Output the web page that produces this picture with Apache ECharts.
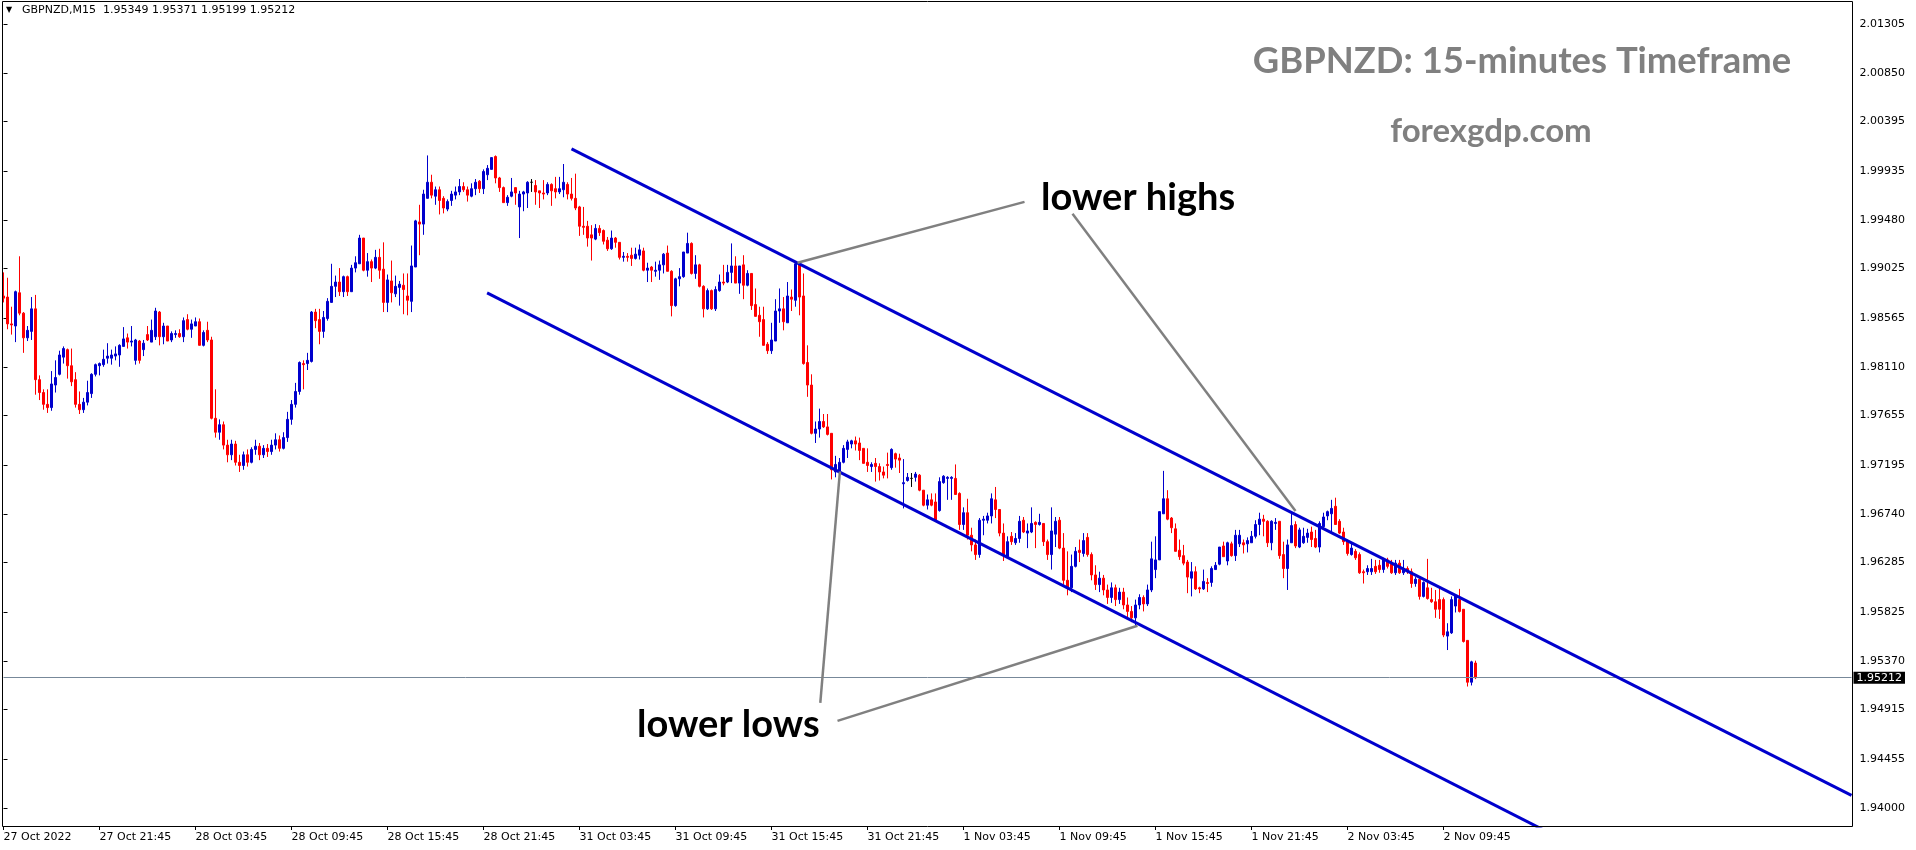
<!DOCTYPE html>
<html><head><meta charset="utf-8">
<script src="https://cdn.jsdelivr.net/npm/echarts@6/dist/echarts.min.js"></script>
<style>html,body{margin:0;padding:0;background:#fff}#c{width:1916px;height:850px}</style>
</head><body><div id="c"></div>
<script>
// ---- data (GBPNZD M15, 27 Oct 2022 15:45 .. 2 Nov 2022 11:45) ----
const opens = [
1.9877,1.9876,1.9851,1.9849,1.9880,1.9861,1.9838,1.9844,1.9865,1.9799,
1.9787,1.9776,1.9773,1.9794,1.9804,1.9820,1.9827,1.9812,1.9799,1.9776,
1.9771,1.9778,1.9786,1.9804,1.9812,1.9813,1.9819,1.9819,1.9821,1.9822,
1.9830,1.9838,1.9834,1.9817,1.9835,1.9827,1.9841,1.9834,1.9839,1.9862,
1.9839,1.9849,1.9836,1.9841,1.9842,1.9839,1.9855,1.9846,1.9849,1.9853,
1.9831,1.9845,1.9836,1.9763,1.9750,1.9757,1.9738,1.9729,1.9739,1.9722,
1.9719,1.9729,1.9722,1.9734,1.9737,1.9729,1.9735,1.9732,1.9738,1.9743,
1.9735,1.9745,1.9762,1.9776,1.9788,1.9814,1.9814,1.9816,1.9862,1.9855,
1.9844,1.9856,1.9871,1.9886,1.9890,1.9881,1.9895,1.9881,1.9903,1.9907,
1.9931,1.9901,1.9909,1.9903,1.9913,1.9902,1.9871,1.9891,1.9879,1.9885,
1.9887,1.9877,1.9872,1.9904,1.9946,1.9944,1.9968,1.9983,1.9970,1.9976,
1.9968,1.9958,1.9966,1.9971,1.9974,1.9979,1.9976,1.9970,1.9977,1.9984,
1.9977,1.9990,1.9995,2.0007,1.9987,1.9978,1.9964,1.9970,1.9978,1.9960,
1.9972,1.9973,1.9983,1.9980,1.9975,1.9973,1.9973,1.9981,1.9977,1.9974,
1.9976,1.9981,1.9972,1.9968,1.9960,1.9942,1.9942,1.9934,1.9930,1.9940,
1.9938,1.9929,1.9921,1.9931,1.9927,1.9913,1.9914,1.9915,1.9912,1.9915,
1.9919,1.9901,1.9904,1.9900,1.9901,1.9906,1.9917,1.9900,1.9868,1.9893,
1.9895,1.9917,1.9926,1.9898,1.9906,1.9886,1.9865,1.9882,1.9865,1.9882,
1.9890,1.9890,1.9899,1.9905,1.9889,1.9906,1.9887,1.9898,1.9869,1.9859,
1.9855,1.9832,1.9826,1.9835,1.9863,1.9865,1.9852,1.9876,1.9873,1.9907,
1.9877,1.9815,1.9794,1.9749,1.9753,1.9760,1.9755,1.9749,1.9713,1.9713,
1.9722,1.9734,1.9739,1.9742,1.9740,1.9735,1.9722,1.9718,1.9721,1.9718,
1.9713,1.9720,1.9717,1.9730,1.9726,1.9702,1.9705,1.9707,1.9708,1.9710,
1.9696,1.9682,1.9687,1.9685,1.9677,1.9703,1.9707,1.9707,1.9707,1.9693,
1.9664,1.9675,1.9654,1.9645,1.9636,1.9668,1.9668,1.9672,1.9687,1.9678,
1.9656,1.9634,1.9653,1.9647,1.9651,1.9668,1.9656,1.9657,1.9666,1.9664,
1.9665,1.9648,1.9636,1.9655,1.9668,1.9642,1.9612,1.9605,1.9625,1.9640,
1.9637,1.9652,1.9636,1.9617,1.9608,1.9614,1.9603,1.9596,1.9605,1.9594,
1.9601,1.9589,1.9583,1.9577,1.9589,1.9596,1.9590,1.9603,1.9622,1.9631,
1.9674,1.9688,1.9670,1.9660,1.9640,1.9635,1.9629,1.9614,1.9620,1.9605,
1.9604,1.9610,1.9610,1.9622,1.9627,1.9644,1.9630,1.9646,1.9635,1.9646,
1.9647,1.9646,1.9647,1.9653,1.9664,1.9669,1.9667,1.9647,1.9665,1.9667,
1.9636,1.9623,1.9647,1.9664,1.9643,1.9647,1.9652,1.9657,1.9651,1.9643,
1.9662,1.9672,1.9674,1.9681,1.9667,1.9657,1.9648,1.9636,1.9639,1.9636,
1.9620,1.9620,1.9620,1.9625,1.9626,1.9622,1.9631,1.9628,1.9619,1.9628,
1.9619,1.9623,1.9620,1.9609,1.9613,1.9597,1.9605,1.9594,1.9592,1.9594,
1.9594,1.9560,1.9563,1.9588,1.9594,1.9585,1.9556,1.9517,1.95349];
const closes = [
1.9875,1.9851,1.9850,1.9881,1.9861,1.9838,1.9845,1.9865,1.9799,1.9787,
1.9776,1.9773,1.9795,1.9801,1.9822,1.9828,1.9812,1.9797,1.9776,1.9771,
1.9778,1.9787,1.9804,1.9813,1.9814,1.9818,1.9821,1.9822,1.9823,1.9831,
1.9837,1.9834,1.9835,1.9836,1.9817,1.9833,1.9836,1.9845,1.9863,1.9839,
1.9849,1.9835,1.9842,1.9842,1.9839,1.9854,1.9846,1.9851,1.9853,1.9831,
1.9843,1.9836,1.9763,1.9750,1.9757,1.9738,1.9729,1.9739,1.9722,1.9719,
1.9729,1.9722,1.9734,1.9737,1.9729,1.9735,1.9732,1.9738,1.9743,1.9735,
1.9745,1.9762,1.9776,1.9788,1.9815,1.9813,1.9817,1.9862,1.9854,1.9844,
1.9857,1.9872,1.9886,1.9890,1.9881,1.9895,1.9881,1.9903,1.9908,1.9931,
1.9901,1.9909,1.9903,1.9913,1.9901,1.9871,1.9892,1.9880,1.9886,1.9888,
1.9883,1.9873,1.9905,1.9947,1.9944,1.9972,1.9983,1.9971,1.9976,1.9966,
1.9959,1.9965,1.9972,1.9974,1.9979,1.9976,1.9971,1.9977,1.9983,1.9977,
1.9993,1.9996,2.0006,1.9987,1.9978,1.9964,1.9969,1.9974,1.9973,1.9972,
1.9974,1.9983,1.9983,1.9974,1.9973,1.9972,1.9981,1.9975,1.9974,1.9977,
1.9983,1.9972,1.9968,1.9959,1.9942,1.9941,1.9931,1.9931,1.9940,1.9936,
1.9928,1.9921,1.9931,1.9927,1.9913,1.9914,1.9913,1.9912,1.9916,1.9920,
1.9901,1.9903,1.9901,1.9901,1.9906,1.9916,1.9900,1.9868,1.9893,1.9895,
1.9918,1.9926,1.9898,1.9906,1.9886,1.9865,1.9882,1.9865,1.9883,1.9890,
1.9889,1.9899,1.9905,1.9889,1.9905,1.9887,1.9898,1.9868,1.9858,1.9853,
1.9831,1.9826,1.9836,1.9863,1.9865,1.9853,1.9877,1.9874,1.9907,1.9876,
1.9814,1.9794,1.9749,1.9753,1.9760,1.9755,1.9748,1.9715,1.9720,1.9722,
1.9735,1.9741,1.9742,1.9739,1.9733,1.9721,1.9719,1.9720,1.9718,1.9713,
1.9710,1.9719,1.9734,1.9725,1.9724,1.9703,1.9708,1.9707,1.9711,1.9696,
1.9682,1.9687,1.9682,1.9668,1.9704,1.9709,1.9708,1.9708,1.9692,1.9664,
1.9675,1.9654,1.9645,1.9636,1.9668,1.9669,1.9672,1.9688,1.9678,1.9656,
1.9636,1.9648,1.9648,1.9651,1.9667,1.9657,1.9658,1.9665,1.9664,1.9666,
1.9648,1.9636,1.9658,1.9667,1.9642,1.9612,1.9605,1.9625,1.9639,1.9638,
1.9649,1.9636,1.9617,1.9608,1.9614,1.9603,1.9596,1.9605,1.9594,1.9601,
1.9589,1.9583,1.9577,1.9589,1.9596,1.9590,1.9603,1.9632,1.9631,1.9676,
1.9688,1.9669,1.9661,1.9639,1.9634,1.9628,1.9615,1.9620,1.9604,1.9604,
1.9611,1.9609,1.9623,1.9626,1.9643,1.9634,1.9647,1.9635,1.9654,1.9654,
1.9645,1.9649,1.9653,1.9664,1.9669,1.9667,1.9647,1.9667,1.9666,1.9635,
1.9623,1.9645,1.9663,1.9644,1.9659,1.9653,1.9656,1.9650,1.9643,1.9665,
1.9671,1.9676,1.9679,1.9664,1.9656,1.9648,1.9637,1.9642,1.9633,1.9619,
1.9619,1.9623,1.9623,1.9620,1.9622,1.9631,1.9625,1.9619,1.9628,1.9619,
1.9623,1.9620,1.9609,1.9613,1.9597,1.9610,1.9595,1.9592,1.9585,1.9585,
1.9561,1.9564,1.9594,1.9598,1.9583,1.9555,1.9517,1.9536,1.95212];
const lows = [
1.9871,1.9846,1.9841,1.9834,1.9859,1.9824,1.9835,1.9836,1.9785,1.9780,
1.9771,1.9768,1.9770,1.9787,1.9803,1.9814,1.9800,1.9793,1.9773,1.9767,
1.9768,1.9775,1.9782,1.9802,1.9803,1.9811,1.9814,1.9813,1.9817,1.9811,
1.9830,1.9828,1.9830,1.9813,1.9814,1.9821,1.9835,1.9834,1.9836,1.9831,
1.9832,1.9835,1.9834,1.9838,1.9838,1.9834,1.9845,1.9838,1.9849,1.9831,
1.9830,1.9834,1.9762,1.9745,1.9743,1.9734,1.9722,1.9724,1.9719,1.9713,
1.9715,1.9718,1.9721,1.9729,1.9724,1.9726,1.9727,1.9729,1.9734,1.9732,
1.9734,1.9741,1.9757,1.9773,1.9785,1.9790,1.9808,1.9815,1.9847,1.9832,
1.9838,1.9854,1.9871,1.9876,1.9877,1.9876,1.9877,1.9881,1.9899,1.9907,
1.9900,1.9895,1.9890,1.9902,1.9893,1.9862,1.9862,1.9871,1.9876,1.9868,
1.9860,1.9859,1.9862,1.9904,1.9915,1.9934,1.9968,1.9968,1.9962,1.9953,
1.9954,1.9956,1.9961,1.9967,1.9971,1.9974,1.9965,1.9969,1.9971,1.9973,
1.9972,1.9985,1.9995,1.9982,1.9974,1.9964,1.9961,1.9969,1.9962,1.9931,
1.9956,1.9959,1.9974,1.9962,1.9959,1.9967,1.9971,1.9961,1.9968,1.9972,
1.9969,1.9967,1.9966,1.9957,1.9933,1.9934,1.9923,1.9910,1.9929,1.9933,
1.9925,1.9919,1.9920,1.9922,1.9911,1.9909,1.9909,1.9905,1.9911,1.9911,
1.9900,1.9890,1.9890,1.9895,1.9892,1.9898,1.9900,1.9858,1.9867,1.9886,
1.9894,1.9917,1.9897,1.9893,1.9885,1.9857,1.9864,1.9864,1.9863,1.9881,
1.9887,1.9889,1.9889,1.9889,1.9879,1.9874,1.9886,1.9864,1.9858,1.9839,
1.9831,1.9823,1.9823,1.9835,1.9852,1.9845,1.9852,1.9863,1.9867,1.9859,
1.9813,1.9783,1.9748,1.9740,1.9745,1.9754,1.9747,1.9706,1.9708,1.9710,
1.9721,1.9726,1.9735,1.9733,1.9724,1.9721,1.9713,1.9713,1.9704,1.9705,
1.9707,1.9707,1.9715,1.9717,1.9712,1.9679,1.9704,1.9699,1.9704,1.9695,
1.9681,1.9678,1.9681,1.9668,1.9676,1.9702,1.9687,1.9687,1.9692,1.9659,
1.9659,1.9650,1.9639,1.9631,1.9633,1.9654,1.9665,1.9665,1.9670,1.9653,
1.9630,1.9633,1.9645,1.9645,1.9647,1.9656,1.9642,1.9656,1.9642,1.9663,
1.9644,1.9631,1.9622,1.9643,1.9641,1.9608,1.9598,1.9601,1.9624,1.9629,
1.9634,1.9634,1.9612,1.9603,1.9601,1.9598,1.9590,1.9591,1.9588,1.9590,
1.9585,1.9577,1.9573,1.9570,1.9585,1.9583,1.9588,1.9601,1.9614,1.9631,
1.9674,1.9668,1.9656,1.9639,1.9631,1.9626,1.9600,1.9597,1.9603,1.9600,
1.9603,1.9601,1.9606,1.9622,1.9626,1.9634,1.9626,1.9634,1.9630,1.9643,
1.9637,1.9638,1.9647,1.9651,1.9654,1.9653,1.9643,1.9640,1.9659,1.9632,
1.9614,1.9603,1.9647,1.9642,1.9642,1.9646,1.9647,1.9643,1.9642,1.9638,
1.9659,1.9668,1.9657,1.9664,1.9655,1.9645,1.9635,1.9635,1.9631,1.9618,
1.9609,1.9617,1.9617,1.9618,1.9619,1.9619,1.9623,1.9618,1.9617,1.9618,
1.9617,1.9618,1.9605,1.9606,1.9594,1.9596,1.9594,1.9591,1.9577,1.9576,
1.9559,1.9547,1.9562,1.9582,1.9582,1.9554,1.9513,1.9514,1.95199];
const highs = [
1.9899,1.9894,1.9867,1.9882,1.9914,1.9862,1.9849,1.9876,1.9878,1.9803,
1.9790,1.9790,1.9807,1.9817,1.9826,1.9830,1.9828,1.9828,1.9806,1.9788,
1.9782,1.9798,1.9805,1.9814,1.9815,1.9827,1.9833,1.9827,1.9830,1.9832,
1.9848,1.9842,1.9849,1.9837,1.9836,1.9836,1.9849,1.9855,1.9866,1.9863,
1.9852,1.9849,1.9844,1.9845,1.9846,1.9857,1.9860,1.9855,1.9857,1.9856,
1.9845,1.9853,1.9839,1.9790,1.9762,1.9760,1.9743,1.9743,1.9742,1.9729,
1.9732,1.9734,1.9736,1.9743,1.9740,1.9738,1.9739,1.9743,1.9749,1.9747,
1.9750,1.9769,1.9780,1.9796,1.9816,1.9817,1.9824,1.9863,1.9865,1.9865,
1.9863,1.9875,1.9907,1.9896,1.9903,1.9896,1.9896,1.9906,1.9914,1.9934,
1.9931,1.9917,1.9911,1.9920,1.9921,1.9927,1.9897,1.9910,1.9896,1.9891,
1.9898,1.9898,1.9924,1.9948,1.9962,1.9976,2.0008,1.9990,1.9979,1.9979,
1.9970,1.9967,1.9975,1.9979,1.9986,1.9983,1.9979,1.9982,1.9986,1.9985,
1.9995,1.9999,2.0006,2.0008,1.9988,1.9979,1.9971,1.9987,1.9978,1.9975,
1.9975,1.9984,1.9986,1.9985,1.9975,1.9985,1.9983,1.9982,1.9988,1.9988,
2.0000,1.9983,1.9987,1.9991,1.9961,1.9960,1.9947,1.9943,1.9944,1.9943,
1.9939,1.9932,1.9938,1.9932,1.9927,1.9918,1.9917,1.9922,1.9922,1.9925,
1.9922,1.9908,1.9905,1.9909,1.9910,1.9917,1.9924,1.9901,1.9894,1.9903,
1.9918,1.9936,1.9927,1.9915,1.9907,1.9887,1.9884,1.9883,1.9886,1.9897,
1.9906,1.9906,1.9926,1.9914,1.9905,1.9915,1.9901,1.9898,1.9884,1.9867,
1.9867,1.9834,1.9852,1.9874,1.9884,1.9876,1.9890,1.9883,1.9909,1.9908,
1.9898,1.9831,1.9804,1.9760,1.9772,1.9767,1.9767,1.9749,1.9728,1.9726,
1.9738,1.9743,1.9743,1.9746,1.9745,1.9735,1.9735,1.9722,1.9726,1.9721,
1.9718,1.9731,1.9735,1.9731,1.9730,1.9725,1.9712,1.9712,1.9713,1.9711,
1.9696,1.9692,1.9693,1.9693,1.9708,1.9710,1.9709,1.9709,1.9720,1.9694,
1.9680,1.9688,1.9661,1.9650,1.9670,1.9672,1.9675,1.9693,1.9699,1.9678,
1.9665,1.9653,1.9657,1.9656,1.9672,1.9671,1.9665,1.9680,1.9667,1.9674,
1.9665,1.9650,1.9680,1.9671,1.9671,1.9656,1.9639,1.9636,1.9643,1.9650,
1.9656,1.9656,1.9638,1.9626,1.9620,1.9617,1.9608,1.9610,1.9608,1.9605,
1.9605,1.9596,1.9588,1.9594,1.9599,1.9598,1.9608,1.9648,1.9653,1.9676,
1.9714,1.9696,1.9671,1.9665,1.9650,1.9645,1.9631,1.9629,1.9625,1.9606,
1.9622,1.9614,1.9625,1.9629,1.9643,1.9648,1.9648,1.9648,1.9659,1.9659,
1.9650,1.9652,1.9658,1.9668,1.9675,1.9673,1.9668,1.9668,1.9670,1.9667,
1.9648,1.9650,1.9675,1.9667,1.9661,1.9661,1.9660,1.9662,1.9659,1.9667,
1.9675,1.9677,1.9687,1.9689,1.9669,1.9661,1.9650,1.9647,1.9641,1.9638,
1.9622,1.9626,1.9632,1.9631,1.9631,1.9633,1.9633,1.9631,1.9631,1.9631,
1.9631,1.9625,1.9623,1.9615,1.9614,1.9611,1.9632,1.9605,1.9603,1.9605,
1.9596,1.9572,1.9597,1.9599,1.9604,1.9585,1.9556,1.9537,1.95371];

const tickLabels = ['27 Oct 2022','27 Oct 21:45','28 Oct 03:45','28 Oct 09:45','28 Oct 15:45','28 Oct 21:45',
  '31 Oct 03:45','31 Oct 09:45','31 Oct 15:45','31 Oct 21:45','1 Nov 03:45','1 Nov 09:45','1 Nov 15:45',
  '1 Nov 21:45','2 Nov 03:45','2 Nov 09:45'];
const barsPerLabel = 24;
const totalSlots = 463;               // bars + empty right margin of the MT4 chart
const priceTicks = [2.01305,2.00850,2.00395,1.99935,1.99480,1.99025,1.98565,1.98110,1.97655,
  1.97195,1.96740,1.96285,1.95825,1.95370,1.94915,1.94455,1.94000];
const priceMin = 1.9383, priceMax = 2.0151;
const lastPrice = 1.95212;
const headerText = 'GBPNZD,M15  1.95349 1.95371 1.95199 1.95212';
// trend lines: [bar index, price]
const upperChannel = [[142, 2.00141], [462, 1.94116]];
const lowerChannel = [[120.9, 1.98799], [390, 1.93699]];
const highPointerA = [[198.5, 1.99079], [255.25, 1.99647]];
const highPointerB = [[267.25, 1.99536], [323, 1.96767]];
const lowPointerA = [[204.2, 1.94978], [209.1, 1.97134]];
const lowPointerB = [[208.5, 1.94810], [283.5, 1.95696]];

// ---- chart ----
const candles = opens.map((o, i) => [o, closes[i], lows[i], highs[i]]);
const categories = Array.from({length: totalSlots}, (_, i) =>
  (i % barsPerLabel === 0 && i / barsPerLabel < tickLabels.length) ? tickLabels[i / barsPerLabel] : '');
const showIdx = (idx) => categories[idx] !== '';
const FONT = 'DejaVu Sans';
const BLUE = '#0000cd', RED = '#ff0000';
const lineSeries = (data, color, width, extra) => Object.assign({
  type: 'line', xAxisIndex: 1, yAxisIndex: 0, data, symbol: 'none', silent: true,
  lineStyle: {color, width}, clip: true, z: 5
}, extra || {});

const chart = echarts.init(document.getElementById('c'), null, {renderer: 'canvas'});
chart.setOption({
  animation: false,
  backgroundColor: '#ffffff',
  grid: {left: 3.5, right: 64.5, top: 2, bottom: 24, show: false},
  xAxis: [{
    type: 'category', data: categories, boundaryGap: false,
    axisLine: {show: false},
    axisTick: {show: true, interval: showIdx, length: 4, lineStyle: {color: '#000'}},
    axisLabel: {interval: showIdx, align: 'left', margin: 6, color: '#000', fontFamily: FONT, fontSize: 11, hideOverlap: false},
    splitLine: {show: false}
  }, {
    type: 'value', min: 0, max: totalSlots - 1, show: false
  }],
  yAxis: [{
    type: 'value', position: 'right', min: priceMin, max: priceMax, scale: true,
    axisLine: {show: false},
    axisTick: {show: true, length: 4, customValues: priceTicks, lineStyle: {color: '#000'}},
    axisLabel: {customValues: priceTicks, margin: 8, color: '#000', fontFamily: FONT, fontSize: 11,
      formatter: v => v.toFixed(5)},
    splitLine: {show: false}
  }],
  series: [
    {
      type: 'candlestick', xAxisIndex: 0, yAxisIndex: 0, data: candles, barWidth: 2, z: 3,
      itemStyle: {color: BLUE, color0: RED, borderColor: BLUE, borderColor0: RED, borderColorDoji: '#000', borderWidth: 1}
    },
    lineSeries(upperChannel, BLUE, 3, {
      markLine: {
        silent: true, symbol: 'none', animation: false, precision: 5,
        lineStyle: {color: '#778899', width: 1, type: 'solid'},
        label: {show: true, position: 'end', distance: 2, formatter: lastPrice.toFixed(5),
          color: '#fff', backgroundColor: '#000', padding: [1, 3, 0, 3], fontFamily: FONT, fontSize: 11},
        data: [{yAxis: lastPrice}]
      }
    }),
    lineSeries(lowerChannel, BLUE, 3),
    lineSeries(highPointerA, '#808080', 2.5),
    lineSeries(highPointerB, '#808080', 2.5),
    lineSeries(lowPointerA, '#808080', 2.5),
    lineSeries(lowPointerB, '#808080', 2.5)
  ],
  graphic: [
    {type: 'rect', z: 20, silent: true, shape: {x: 2.5, y: 1.5, width: 1850, height: 825}, style: {fill: null, stroke: '#000', lineWidth: 1}},
    {type: 'text', x: 6, y: 10, z: 10, style: {text: '▼', font: '8px "DejaVu Sans"', fill: '#000', align: 'left', verticalAlign: 'middle'}},
    {type: 'text', x: 22, y: 10, z: 10, style: {text: headerText, font: '11px "DejaVu Sans"', fill: '#000', align: 'left', verticalAlign: 'middle'}},
    {type: 'text', x: 1522, y: 61, z: 10, style: {text: 'GBPNZD: 15-minutes Timeframe', font: 'bold 36.4px Lato', fill: '#808080', align: 'center', verticalAlign: 'middle'}},
    {type: 'text', x: 1491, y: 131, z: 10, style: {text: 'forexgdp.com', font: 'bold 33px Lato', fill: '#808080', align: 'center', verticalAlign: 'middle'}},
    {type: 'text', x: 1041, y: 198, z: 10, style: {text: 'lower highs', font: 'bold 38px Lato', fill: '#000', align: 'left', verticalAlign: 'middle'}},
    {type: 'text', x: 637, y: 725, z: 10, style: {text: 'lower lows', font: 'bold 38px Lato', fill: '#000', align: 'left', verticalAlign: 'middle'}}
  ]
});
</script></body></html>
